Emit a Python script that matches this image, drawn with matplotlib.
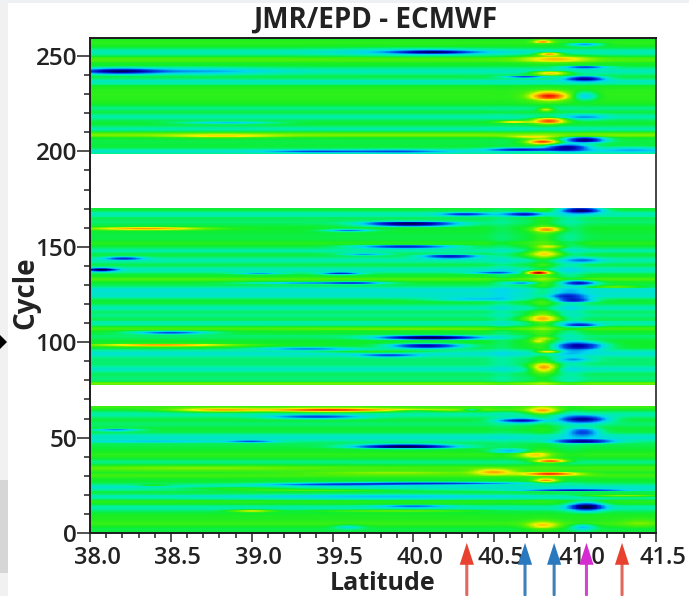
import numpy as np
import matplotlib
matplotlib.use("Agg")
import matplotlib.pyplot as plt
from matplotlib.colors import LinearSegmentedColormap
from matplotlib.patches import Rectangle, Polygon
from matplotlib.transforms import ScaledTranslation, blended_transform_factory
from matplotlib.ticker import MultipleLocator

plt.rcParams['font.family'] = ['Open Sans', 'DejaVu Sans']

W, H = 689, 596
XLIM = (38.0, 41.5)
YLIM = (0, 259.4)
gaps = [(67.0, 77.6), (170.5, 198.6)]

# full-width stripes: (cycle, value, thickness)
bands = [(257, .05, 1.2), (252, -.17, 1.2), (248, .12, 1.0), (242, -.17, 1.3), (236.5, -.18, 1.2),
         (231, .05, 2.5), (227, .03, 2), (222.5, -.1, 1.0), (218, -.14, 1.2), (212, -.14, 1.0),
         (208.6, .2, .8), (205, -.03, 1.5), (200, -.2, 1.0),
         (167, -.15, 1.2), (163, -.07, 1.2), (155, -.03, 2), (152, .05, .8), (148, -.14, 1.0),
         (143, -.16, 1.2), (138, -.18, 1.2), (133, .12, .7), (127, -.22, 1.6), (124, -.16, 1.0),
         (118, -.16, 1.2), (114, -.1, 1.2), (110, -.14, 1), (107, .1, .7), (103, -.07, 1),
         (94, -.22, 1.4), (90, -.07, 1.2), (86, -.18, 1.4), (81, -.08, 1.5), (78.2, .2, .6),
         (66, .08, .8), (62, -.14, 1.2), (57, -.07, 1.2), (50, -.2, 1.6), (46, -.03, 1.2),
         (41, .05, 1), (37, -.1, 1), (34, .1, 1.2), (30, .1, .8), (24, -.2, 1.2), (19, -.16, 1.0),
         (16.5, .05, .8), (13, -.14, 1.2), (8, .03, 1.2), (5, .08, 1), (2, -.03, 1)]

# streaks and blobs: (latitude, cycle, lat spread, cycle spread, value)
features_top = [
    (38.18, 242, .16, .9, -.75), (38.65, 242, .3, 1.2, -.2), (38.85, 215, .2, .5, -.35),
    (38.82, 208, .22, .7, .25), (39.4, 200, .2, .5, -.4), (40.12, 252, .15, .6, -.72),
    (40.05, 252, .35, 1.2, -.18), (39.9, 200, .2, .6, -.35), (40.8, 257.5, .04, .6, .5),
    (41.06, 256, .07, .6, -.4), (40.84, 251, .05, .5, .6), (40.88, 248.5, .14, 1.3, .36),
    (41.06, 244, .09, .5, -.5), (40.85, 241, .08, .7, .55), (41.06, 238, .08, .9, -.75),
    (40.69, 239, .09, .4, -.5), (40.84, 229, .08, 1.6, .76), (41.06, 229, .05, 1.6, -.35),
    (40.82, 222, .03, .7, .4), (40.84, 216, .07, 1.1, .72), (41.06, 218, .09, 1, -.24),
    (40.62, 215.5, .07, .4, .42), (40.73, 207.5, .1, .5, .36), (40.8, 205, .07, .9, .78),
    (41.06, 206, .08, 1, -.85), (40.95, 202, .09, 1.2, -.75), (40.67, 201, .14, .5, -.55),
    (41.35, 201, .15, 1, -.2),
]
features_mid = [
    (41.04, 169, .08, 1.0, -.85), (40.69, 167, .08, .6, -.55), (40.32, 167, .1, .5, -.45),
    (39.98, 162, .18, .8, -.92), (39.6, 158.5, .1, .5, -.45), (40.83, 159, .06, 1.0, .5),
    (39.95, 150, .2, .6, -.62), (40.85, 150, .06, .6, .25), (40.82, 146.5, .08, 1.6, .36),
    (40.23, 145, .12, .7, -.65), (39.7, 146, .1, .5, -.35), (40.77, 136.5, .05, .6, .95),
    (41.06, 143, .07, .9, -.28), (40.5, 136.5, .1, .4, -.38), (39.35, 131, .25, .4, -.6),
    (39.55, 136, .08, .5, -.62), (39.05, 136, .1, .4, -.35), (39.65, 131, .12, .5, -.5),
    (40.67, 131, .07, .5, -.5), (41.03, 131, .07, .8, -.7), (40.95, 124, .08, 1.0, -.35),
    (38.35, 159.5, .24, .5, .55), (38.21, 144, .08, .5, -.5), (38.07, 138, .06, .6, -.9),
    (41.25, 129, .12, .5, .25), (40.4, 122.5, .2, .6, -.25), (41.0, 122, .08, .8, -.5),
    (40.8, 112.5, .08, 1.6, .42), (41.04, 109, .07, .7, -.5), (38.5, 105, .16, .5, -.5),
    (40.1, 102.4, .2, .6, -.98), (40.0, 107, .5, .5, .08), (38.45, 98.4, .3, .5, .55),
    (40.08, 98, .15, .8, -.75), (39.35, 96.5, .22, .6, -.42), (41.03, 98, .1, 1.5, -.72),
    (40.84, 95, .05, .4, .5), (39.75, 95, .3, .4, .2), (39.85, 93, .12, .5, -.35),
    (40.81, 86.6, .06, 1.6, .6), (40.77, 100.5, .03, .6, .25), (41.0, 91, .08, .8, -.25),
    (40.8, 102, .05, .6, .22),
]
features_low = [
    (38.8, 64.4, .2, .7, .55), (39.45, 64.4, .25, .7, .66), (39.9, 64.4, .5, .6, .35),
    (40.8, 64, .07, 1.2, .45), (40.36, 64.5, .04, .4, -.45), (40.0, 64, .1, .4, -.25),
    (39.4, 60.8, .2, .6, -.45), (40.67, 59, .1, .8, -.72), (41.05, 59.5, .1, 1.2, -.8),
    (38.16, 54, .1, .5, -.38), (41.05, 53, .07, 1.6, -.48), (41.05, 48, .12, .7, -.72),
    (38.4, 48, .35, .4, -.2), (39.0, 48, .1, .4, -.35), (39.95, 45.3, .2, .7, -.98),
    (40.6, 43, .08, .8, -.32), (40.75, 41, .07, 1.2, .36), (40.85, 37.7, .07, .7, .72),
    (39.9, 31.6, .4, .7, .2), (40.5, 32, .09, 1.1, .45), (40.85, 31, .12, .6, .7),
    (40.82, 27.5, .05, .8, .55), (40.1, 26, .4, .4, -.55), (39.5, 25.5, .3, .4, -.4),
    (41.0, 22.5, .22, .4, -.6), (41.3, 19.5, .2, .5, .36), (39.8, 19, .6, 1, -.14),
    (38.4, 25, .07, .4, .16), (38.9, 23.5, .3, .5, .2), (39.4, 22.5, .35, .5, .2),
    (41.07, 13.8, .07, 1.5, -.9), (40.0, 14, .15, .5, -.35), (39.0, 11.5, .09, .4, .38),
    (39.9, 11.5, .35, .4, .22), (40.8, 4, .07, 1.5, .38), (39.6, 3, .06, .8, -.22),
    (41.05, 3, .05, 1.2, -.3), (38.7, 34, .5, 1, .1), (41.4, 5, .08, 1.5, .12),
]
features_trough = [(40.97, 120, .06, 45, -.1), (40.55, 120, .05, 45, -.06), (40.8, 120, .05, 45, .12)]

arrow_lat = [40.33, 40.69, 40.87, 41.07, 41.29]
arrow_face = ['#e8412f', '#2a78bd', '#2a78bd', '#d52bd0', '#e8412f']
arrow_line = ['#e0685c', '#3f80b8', '#3f80b8', '#d645d2', '#e0685c']

x_major = [38.0, 38.5, 39.0, 39.5, 40.0, 40.5, 41.0, 41.5]
y_major = [0, 50, 100, 150, 200, 250]

cmap = LinearSegmentedColormap.from_list('jetlike', [
    (0.00, '#000040'), (0.12, '#0000b0'), (0.25, '#0050e8'), (0.36, '#00d8f0'),
    (0.44, '#00f0a0'), (0.50, '#10ee28'), (0.58, '#60f000'), (0.68, '#f4f000'),
    (0.80, '#ff8000'), (0.90, '#f82000'), (1.00, '#800000')])
cmap.set_bad('white')

lat = np.linspace(*XLIM, 701)
cyc = np.linspace(*YLIM, 601)
LAT, CYC = np.meshgrid(lat, cyc)
field = np.zeros_like(LAT)
for c, v, w in bands:
    field += v * np.exp(-.5 * ((CYC - c) / w) ** 2)
for la, c, dl, dc, v in features_top + features_mid + features_low + features_trough:
    field += v * np.exp(-.5 * ((LAT - la) / dl) ** 2 - .5 * ((CYC - c) / dc) ** 2)
for lo, hi in gaps:
    field[(CYC > lo) & (CYC < hi)] = np.nan

fig = plt.figure(figsize=(W / 100, H / 100), dpi=100, facecolor='white')

def px_rect(x0, y0, x1, y1, color):
    fig.add_artist(Rectangle((x0 / W, 1 - y1 / H), (x1 - x0) / W, (y1 - y0) / H,
                             transform=fig.transFigure, color=color, lw=0, zorder=-5))
px_rect(0, 0, W, 3, '#eef1f4')
px_rect(0, 0, 8, H, '#f1f1f1')
px_rect(0, 480, 8, 573, '#d6d6d6')
fig.add_artist(Polygon([(0, 1 - 335 / H), (7 / W, 1 - 342 / H), (0, 1 - 349 / H)],
                       closed=True, transform=fig.transFigure, color='black', lw=0))

ax = fig.add_axes([90 / W, 63 / H, 566 / W, 495 / H])
ax.pcolormesh(LAT, CYC, np.ma.masked_invalid(field), cmap=cmap, vmin=-1, vmax=1,
              shading='auto', rasterized=True)
ax.set_xlim(*XLIM)
ax.set_ylim(*YLIM)

ax.set_xticks(x_major)
ax.set_xticklabels([f'{v:.1f}' for v in x_major])
ax.set_yticks(y_major)
ax.xaxis.set_minor_locator(MultipleLocator(.1))
ax.yaxis.set_minor_locator(MultipleLocator(10))
ax.tick_params(axis='x', which='major', length=6.5, width=1.1, pad=3, labelsize=17, color='#222222')
ax.tick_params(axis='x', which='minor', length=3.6, width=1.1, color='#222222')
ax.tick_params(axis='y', which='major', length=9.4, width=1.1, pad=0, labelsize=17.5, color='#222222')
ax.tick_params(axis='y', which='minor', length=4.3, width=1.1, color='#222222')
offset = ScaledTranslation(7 / 100, 0, fig.dpi_scale_trans)
for lab in ax.get_xticklabels():
    lab.set_transform(lab.get_transform() + offset)
    lab.set_fontweight('semibold')
    lab.set_color('#222222')
for lab in ax.get_yticklabels():
    lab.set_fontweight('semibold')
    lab.set_color('#222222')
for name, sp in ax.spines.items():
    sp.set_linewidth(1.4)
    sp.set_color('#1c1c1c' if name in ('left', 'bottom', 'top') else '#444444')

fig.text(375 / W, 1 - 20 / H, 'JMR/EPD - ECMWF', ha='center', va='center',
         fontsize=20, fontweight='bold', color='#222222')
fig.text(26 / W, 1 - 293 / H, 'Cycle', rotation=90, ha='center', va='center',
         fontsize=20, fontweight='bold', color='#222222')
fig.text(383 / W, 1 - 584 / H, 'Latitude', ha='center', va='center',
         fontsize=18, fontweight='bold', color='#222222')

trans = blended_transform_factory(ax.transData, ax.transAxes)
for la, face, line in zip(arrow_lat, arrow_face, arrow_line):
    ax.annotate('', xy=(la, -.06), xycoords=trans, xytext=(la, -.125), textcoords=trans,
                annotation_clip=False,
                arrowprops=dict(arrowstyle='-', color=line, lw=2.2, shrinkA=0, shrinkB=0))
    ax.annotate('', xy=(la, -.02), xycoords=trans, xytext=(la, -.12), textcoords=trans,
                annotation_clip=False,
                arrowprops=dict(arrowstyle='-|>,head_length=1.05,head_width=.34', color=face,
                                lw=0, shrinkA=0, shrinkB=0, mutation_scale=15))

fig.savefig('out.png', dpi=100)
